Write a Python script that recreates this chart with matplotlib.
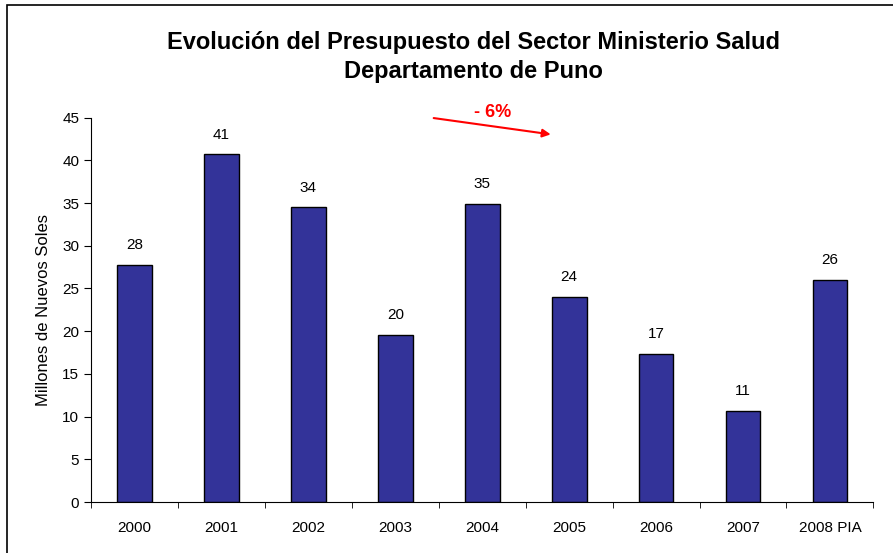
import matplotlib.pyplot as plt
from matplotlib.patches import Rectangle

plt.rcParams['font.family'] = ['Liberation Sans', 'DejaVu Sans']

years = ['2000', '2001', '2002', '2003', '2004', '2005', '2006', '2007', '2008 PIA']
budget = [27.8, 40.7, 34.5, 19.6, 34.9, 24.0, 17.3, 10.7, 26.0]
labels = ['28', '41', '34', '20', '35', '24', '17', '11', '26']

fig = plt.figure(figsize=(8.93, 5.53), dpi=100)
ax = fig.add_axes([0.102, 0.0922, 0.876, 0.695])

x = range(len(years))
ax.bar(x, budget, width=0.4, color='#333399', edgecolor='black', linewidth=1)
for i, (v, t) in enumerate(zip(budget, labels)):
    ax.text(i, v + 1.5, t, ha='center', va='bottom', fontsize=11)

ax.set_xlim(-0.5, len(years) - 0.5)
ax.set_ylim(0, 45)
ax.set_yticks(range(0, 46, 5))
ax.set_xticks(x)
ax.set_xticklabels(years)
ax.set_xticks([i - 0.5 for i in range(len(years) + 1)], minor=True)
ax.tick_params(axis='x', which='major', length=0, pad=14, labelsize=11)
ax.tick_params(axis='x', which='minor', length=4, direction='out')
ax.tick_params(axis='y', length=5, direction='out', labelsize=11)
ax.spines['top'].set_visible(False)
ax.spines['right'].set_visible(False)
ax.set_ylabel('Millones de Nuevos Soles', fontsize=12, labelpad=8)

fig.text(0.53, 0.897, 'Evolución del Presupuesto del Sector Ministerio Salud\nDepartamento de Puno',
         ha='center', va='center', fontsize=17, fontweight='bold', linespacing=1.3)

ax.annotate('', xy=(4.82, 43.0), xytext=(3.41, 45.0),
            arrowprops=dict(arrowstyle='-|>', color='red', lw=1.5, mutation_scale=12),
            annotation_clip=False)
ax.text(4.12, 44.6, '- 6%', color='red', fontsize=13, fontweight='bold',
        ha='center', va='bottom', clip_on=False)

fig.patches.append(Rectangle((7 / 893, -0.1), 1.2, (553 - 5) / 553 + 0.1,
                             transform=fig.transFigure, fill=False,
                             edgecolor='black', linewidth=1.2))

fig.savefig('out.png', dpi=100)
